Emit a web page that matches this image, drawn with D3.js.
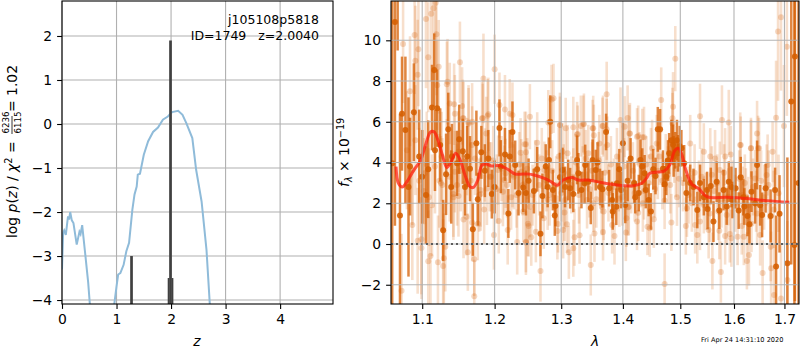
<!DOCTYPE html>
<html><head><meta charset="utf-8">
<script src="https://cdnjs.cloudflare.com/ajax/libs/d3/7.8.5/d3.min.js"></script>
<style>html,body{margin:0;background:#fff}svg{display:block}text{font-family:"DejaVu Sans",sans-serif;fill:#000;white-space:pre}</style>
</head><body><div id="c"></div>
<script>
const pzTicksX=[0,1,2,3,4], pzTicksY=[-4,-3,-2,-1,0,1,2];
const specTicksX=[1.1,1.2,1.3,1.4,1.5,1.6,1.7], specTicksY=[-2,0,2,4,6,8,10];
const titleLines=["j105108p5818","ID=1749   z=2.0040"];
const stamp="Fri Apr 24 14:31:10 2020";

const pzA_z=[0,0.02,0.04,0.07,0.11,0.13,0.15,0.18,0.21,0.27,0.32,0.34,0.37,0.43,0.48,0.51,0.54];
const pzA_v=[-3.3,-2.48,-2.42,-2.52,-2.1,-2.17,-2.0,-2.19,-2.25,-2.74,-2.45,-2.5,-2.3,-3.0,-3.6,-4.08,-4.5];
const pzB_z=[0.94,0.96,1.0,1.03,1.07,1.13,1.18,1.23,1.29,1.33,1.37,1.39,1.43,1.5,1.58,1.67,1.76,1.85,1.94,2.02,2.13,2.21,2.28,2.39,2.46,2.56,2.65,2.71,2.74];
const pzB_v=[-4.5,-4.08,-3.69,-3.42,-3.39,-3.2,-2.89,-2.7,-1.95,-1.6,-1.42,-1.15,-1.13,-0.7,-0.39,-0.18,-0.08,0.1,0.17,0.27,0.3,0.21,0.02,-0.32,-1.04,-1.76,-2.86,-4.08,-4.5];
const spikeZ=[1.275,1.99,1.955,2.026], spikeTop=[-3,1.9,-3.5,-3.5];

const modelLam=[1.066,1.069,1.074,1.08,1.089,1.098,1.105,1.111,1.116,1.121,1.127,1.133,1.139,1.145,1.151,1.158,1.165,1.17,1.176,1.182,1.188,1.195,1.207,1.219,1.23,1.249,1.258,1.274,1.284,1.294,1.303,1.317,1.327,1.343,1.362,1.381,1.402,1.418,1.432,1.44,1.446,1.456,1.471,1.481,1.49,1.496,1.502,1.51,1.521,1.533,1.549,1.586,1.625,1.664,1.71];
const modelFlux=[3.8,2.98,2.8,3.06,3.63,4.12,4.94,5.5,5.5,5.1,4.37,3.76,4.04,4.45,4.15,3.39,2.82,2.78,3.14,3.88,3.93,3.83,3.85,3.67,3.44,3.44,3.39,3.22,3.06,2.88,3.14,3.26,3.14,3.14,3.03,2.93,2.86,2.86,2.98,3.22,3.47,3.52,3.58,3.88,4.58,4.7,4.45,3.63,2.93,2.73,2.32,2.29,2.23,2.13,2.05];

const darkLam=[
1.061,1.0645,1.068,1.071,1.0736,1.078,1.082,1.089,1.105,1.108,
1.113,1.116,1.12,1.124,1.128,1.132,1.135,1.139,1.15,1.155,
1.158,1.165,1.169,1.174,1.176,1.191,1.196,1.2,1.207,1.215,
1.22,1.222,1.226,1.235,1.242,1.258,1.263,1.268,1.271,1.276,
1.281,1.283,1.29,1.291,1.298,1.306,1.314,1.319,1.325,1.332,
1.337,1.343,1.347,1.35,1.358,1.366,1.372,1.377,1.383,1.39,
1.394,1.4,1.404,1.408,1.413,1.419,1.421,1.427,1.43,1.433,
1.439,1.444,1.448,1.452,1.456,1.46,1.464,1.472,1.475,1.48,
1.487,1.491,1.496,1.502,1.511,1.524,1.531,1.536,1.55,1.556,
1.561,1.567,1.572,1.58,1.59,1.597,1.603,1.609,1.613,1.62,
1.626,1.63,1.634,1.645,1.655,1.662,1.672,1.683,1.69,1.706,
1.714,1.7205,1.7215,1.729,
1.181,1.186,1.147,1.14,1.096,1.084,1.1,1.117,1.161,1.209,1.23,1.246,
1.25,1.279,1.287,1.302,1.311,1.327,1.338,1.355,1.362,1.382,1.389,1.397,1.437,
1.469,1.478,1.484,1.488,1.494,1.499,1.507,1.518,1.543,1.549,1.586,1.595,1.618,1.641,1.651,1.681];
const darkFlux=[
3.96,10.9,16,1.4,6.4,5.6,2.8,6.47,2.4,3.67,
6.7,8.54,6.67,4.86,0.67,3.42,5.63,2.8,5.14,4.55,
2.8,3.7,0.72,4.95,2.2,4.2,2.45,2.8,5.7,4.4,
1.5,4.3,5.5,2.5,2.77,2.6,3.67,0.5,2.36,3.8,
4.13,6.0,1.4,1.87,3.28,2.8,2.74,2.46,4.13,2.65,
2.98,3.06,1.77,4.13,4.0,2.69,5.5,2.74,1.6,2.98,
3.67,4.95,1.92,3.1,4.2,3.0,2.3,2.5,4.13,3.8,
2.65,2.16,1.6,3.67,3.34,5.63,5.63,2.93,3.3,4.45,
4.87,4.6,4.45,4.7,2.5,2.8,1.67,3.0,1.72,2.85,
1.1,3.06,1.64,2.65,3.06,2.16,2.74,1.64,3.28,1.84,
1.38,0.97,2.57,3.88,1.43,2.74,1.38,-1.1,1.48,-0.95,
7,-0.05,9.2,3,
4.5,3.6,3.96,4.3,4.3,3.8,3.3,4.6,4.3,3.8,3.88,2.5,
3.1,2.8,2.65,3.63,3.14,3.47,3.88,3.63,2.8,2.16,1.83,2.65,3.47,
3.7,4.1,5.1,4.3,5.1,4.8,3.96,3.0,2.3,2.65,1.84,2.8,2.3,2.0,1.9,2.65];
const darkErr=[
20,10,6.5,5,2.8,3.6,4.4,2.4,2.4,2.4,
2.1,1.8,1.9,1.8,1.5,2.0,1.8,1.8,1.7,1.6,
1.4,1.6,1.3,1.6,1.3,1.4,1.2,1.3,1.4,1.3,
1.2,1.3,1.5,1.1,1.2,1.1,1.1,1.1,1.1,1.1,
1.1,1.3,1.0,1.0,1.2,1.0,1.0,0.9,1.2,0.9,
1.0,1.0,0.8,1.0,1.0,0.9,0.9,0.9,0.9,1.0,
1.0,1.0,0.9,1.0,1.0,1.0,0.8,0.9,1.0,0.9,
0.9,0.8,0.9,1.0,0.9,1.1,1.0,0.9,0.9,1.0,
1.0,0.9,0.9,0.9,0.9,0.9,0.9,0.9,1.0,0.9,
1.0,1.0,0.9,1.0,1.0,0.9,1.0,0.9,1.0,0.9,
1.0,1.0,1.0,1.2,1.1,1.2,1.3,2.5,1.9,5.2,
8,12,12,10,
1.3,1.3,1.6,1.6,2.3,2.4,2.3,2.0,1.5,1.3,1.2,1.1,
1.1,1.0,1.0,1.1,1.0,1.0,1.0,1.0,0.9,0.9,0.9,0.9,0.9,
0.9,1.0,1.0,1.0,1.0,1.0,0.9,0.9,0.9,0.9,0.9,1.0,0.9,1.0,1.0,1.1];

const lightLam=[
1.105,1.112,1.115,1.118,1.119,1.09,1.075,1.095,1.091,1.094,
1.108,1.122,1.151,1.184,1.2,1.134,1.133,1.12,1.084,1.137,
1.143,1.154,1.144,1.156,1.163,1.183,1.191,1.207,1.215,1.226,
1.252,1.285,1.288,1.28,1.298,1.307,1.319,1.325,1.331,1.336,
1.351,1.352,1.367,1.373,1.373,1.396,1.408,1.403,1.412,1.426,
1.436,1.466,1.487,1.486,1.486,1.491,1.536,1.577,1.59,1.645,
1.612,1.633,1.647,1.683,1.699,1.687,1.693,1.705,
1.073,1.087,1.094,1.099,1.099,1.111,1.108,1.121,1.128,1.129,
1.131,1.123,1.125,1.109,1.149,1.142,1.142,1.156,1.16,1.168,
1.176,1.162,1.171,1.171,1.18,1.18,1.189,1.185,1.199,1.206,
1.219,1.233,1.246,1.212,1.224,1.216,1.239,1.249,
1.155,1.163,1.168,1.19,1.182,1.188,1.222,1.244,1.246,1.238,
1.168,1.149,1.172,1.186,1.087,1.091,1.096,1.08,1.103,1.117,
1.133,1.144,1.195,1.205,1.214,1.228,1.161,1.126,
1.246,1.263,1.242,1.25,1.261,1.254,1.246,1.268,1.273,1.279,
1.252,1.294,1.295,1.309,1.305,1.303,1.312,1.319,1.321,1.329,
1.353,1.367,1.386,1.405,1.347,1.365,1.368,1.382,1.406,1.41,
1.424,1.426,1.442,1.446,1.453,1.298,1.326,1.335,1.35,1.366,
1.411,1.424,1.433,1.361,1.374,1.302,1.31,1.343,1.274,1.319,
1.341,1.351,1.306,1.394,1.409,1.434,1.45,1.458,
1.472,1.484,1.51,1.494,1.472,1.512,1.531,1.527,1.559,1.575,
1.552,1.572,1.583,1.592,1.595,1.607,1.619,1.629,1.625,1.656,
1.673,1.693,1.679,1.706,1.613,1.633,1.649,1.676,1.543,1.555,
1.564,1.583,1.594,1.518,1.573,1.666,1.664,1.641,1.688,1.521,
1.543,1.586,1.57,1.615,1.634,1.651,1.554,1.536,1.589,1.623,
1.645,1.672,
1.102,1.106,1.113,1.127,1.137,1.147,1.152,1.166,1.178,1.193,
1.198,1.203,1.21,1.218,1.226,1.232,1.236,1.241,1.248,1.256,
1.26,1.266,1.27,1.277,1.282,1.286,1.292,1.296,1.3,1.304,
1.316,1.323,1.328,1.334,1.339,1.345,1.349,1.356,1.36,1.364,
1.37,1.376,1.38,1.385,1.39,1.393,1.399,1.402,1.414,1.417,
1.42,1.428,1.431,1.436,1.44,1.444,1.448,1.455,1.46,1.463,
1.468,1.474,1.478,1.482,1.489,1.492,1.498,1.505,1.515,1.526,
1.534,1.539,1.547,1.558,1.562,1.568,1.576,1.581,1.598,1.602,
1.61,1.617,1.621,1.628,1.637,1.643,1.653,1.659,1.668,1.678];
const lightFlux=[
11.05,11.3,11.57,11.85,10.3,10.26,9.82,9.56,9.0,8.31,
9.17,8.7,8.92,8.13,8.58,7.97,7.84,7.8,7.5,6.9,
6.86,6.78,6.4,6.17,5.96,6.17,6.37,6.82,6.6,6.33,
6.25,7.1,7.15,5.96,5.83,5.68,5.73,5.38,5.79,5.89,
5.68,5.34,5.79,7.35,5.63,6.09,6.19,5.76,5.43,5.3,
5.24,7.07,6.74,6.17,5.92,9.1,6.27,6.09,5.97,5.43,
4.86,4.7,4.7,6.2,5.79,10.43,11.13,9.69,
-2.3,0.93,0.16,0.23,-0.2,-0.59,-0.85,-0.9,-1.08,-0.7,
-0.13,3.1,3.0,2.3,2.36,2.45,2.3,1.2,1.34,1.05,
1.0,-0.4,-0.75,-2.57,2.45,2.65,2.73,1.7,0.44,1.13,
0.69,0.1,0.08,2.57,2.3,3.47,3.55,1.0,
6.17,5.9,6.0,6.3,6.17,5.43,6.4,4.9,4.5,4.48,
4.86,4.53,4.2,3.88,3.63,5.1,3.1,4.6,3.47,3.8,
4.04,3.55,3.3,3.63,3.14,3.3,4.29,4.29,
4.9,4.97,1.59,0.88,0.6,0.33,0.11,-1.33,1.26,2.19,
1.83,0.64,0.98,0.97,1.55,0.69,-0.41,-0.21,0.33,0.43,
0.52,0.59,0.39,0.56,-1.03,1.83,1.59,0.93,1.26,1.83,
1.1,1.54,0.85,0.77,1.21,5.84,5.4,5.89,5.68,5.79,
5.43,5.27,5.24,4.94,4.86,4.53,4.45,4.45,3.63,3.3,
2.16,2.0,2.16,2.24,1.8,2.0,4.7,4.94,
-1.96,1.06,0.88,2.29,2.13,1.75,0.44,0.93,-0.83,-1.38,
0.69,0.65,0.39,0.49,0.28,0.36,0.36,-0.54,-0.83,-1.42,
-1.19,-2.67,-2.5,-1.77,4.86,4.7,4.7,4.53,4.53,4.29,
4.2,4.29,4.4,4.94,3.63,3.88,3.39,3.22,2.49,2.0,
1.92,1.42,1.59,0.88,1.0,0.44,1.5,1.1,2.32,2.32,
1.5,-0.13,
2.6,3.9,1.9,2.9,3.3,2.9,3.6,3.1,2.4,3.3,
4.1,2.7,3.7,2.9,3.4,2.4,3.9,2.9,3.7,2.4,
3.6,2.9,4.2,3.1,2.4,3.6,2.9,4.3,2.5,3.5,
2.9,4.0,2.4,3.4,4.2,2.7,3.6,2.2,4.1,2.9,
3.5,2.5,3.9,2.8,4.3,3.0,2.3,3.8,2.9,3.6,
2.5,4.1,3.2,2.6,3.9,3.0,4.3,2.7,3.6,4.3,
3.1,4.0,3.4,2.9,4.4,3.7,3.2,3.0,2.4,3.5,
2.7,3.3,2.1,3.4,2.6,3.0,2.2,3.5,2.7,2.0,
3.2,2.4,3.0,1.9,2.8,2.1,3.1,2.3,2.9,1.7];
const lightErr=[
3.4,3.3,3.2,3.2,3.0,2.9,2.9,2.8,2.7,2.7,
2.7,2.3,2.0,2.2,1.7,2.1,2.1,2.2,2.7,2.0,
2.0,1.9,1.9,1.8,1.7,1.7,1.8,1.6,1.7,1.6,
1.6,1.7,1.7,1.6,1.6,1.5,1.5,1.6,1.5,1.5,
1.6,1.5,1.5,1.6,1.5,1.6,1.6,1.5,1.5,1.5,
1.5,1.6,1.7,1.5,1.5,1.6,1.6,1.7,1.6,1.6,
1.6,1.5,1.6,2.8,3.0,3.4,3.6,3.4,
2.8,2.7,2.6,2.7,2.5,2.4,2.5,2.3,2.3,2.2,
2.2,2.3,2.3,2.4,2.0,2.1,2.1,1.9,1.9,1.9,
1.8,1.9,1.8,1.8,1.8,1.8,1.8,1.7,1.7,1.6,
1.7,1.6,1.6,1.7,1.6,1.7,1.6,1.6,
1.9,1.9,1.9,1.8,1.8,1.8,1.7,1.6,1.6,1.7,
1.9,2.0,1.8,1.8,2.7,2.7,2.6,2.9,2.5,2.3,
2.1,2.0,1.7,1.7,1.7,1.6,1.9,2.2,
1.6,1.5,1.5,1.5,1.5,1.4,1.5,1.5,1.5,1.5,
1.5,1.4,1.4,1.4,1.4,1.4,1.3,1.4,1.4,1.4,
1.4,1.4,1.4,1.4,1.5,1.4,1.4,1.4,1.4,1.4,
1.4,1.4,1.4,1.4,1.4,1.4,1.4,1.4,1.4,1.4,
1.4,1.4,1.4,1.4,1.4,1.4,1.4,1.4,1.4,1.4,
1.4,1.4,1.4,1.4,1.4,1.4,1.4,1.4,
1.5,1.4,1.4,1.4,1.4,1.4,1.4,1.4,1.4,1.5,
1.4,1.4,1.4,1.4,1.4,1.4,1.4,1.5,1.4,1.6,
1.8,2.7,2.5,2.9,1.4,1.4,1.5,1.5,1.4,1.4,
1.4,1.4,1.4,1.4,1.4,1.5,1.5,1.4,1.9,1.4,
1.4,1.4,1.4,1.4,1.4,1.5,1.4,1.4,1.4,1.4,
1.5,1.7,
2.6,2.6,2.5,2.3,2.2,2.0,2.0,1.9,1.8,1.7,
1.7,1.7,1.6,1.6,1.6,1.6,1.6,1.5,1.5,1.5,
1.5,1.5,1.5,1.5,1.5,1.5,1.4,1.4,1.4,1.4,
1.4,1.4,1.4,1.4,1.4,1.4,1.4,1.4,1.4,1.4,
1.4,1.4,1.4,1.4,1.4,1.4,1.4,1.4,1.4,1.4,
1.4,1.4,1.4,1.4,1.4,1.4,1.4,1.4,1.4,1.4,
1.4,1.4,1.4,1.4,1.4,1.4,1.4,1.4,1.4,1.4,
1.4,1.4,1.4,1.4,1.4,1.4,1.4,1.4,1.4,1.4,
1.4,1.4,1.4,1.4,1.4,1.5,1.5,1.6,1.7,1.9];

const W=800,H=350;
const svg=d3.select("#c").append("svg").attr("width",W).attr("height",H);
const L={l:62,r:333,t:1,b:304}, R={l:391,r:799,t:1,b:304};
const xP=d3.scaleLinear().domain([0,4.97]).range([L.l,L.r]);
const yP=d3.scaleLinear().domain([2.795,-4.09]).range([L.t,L.b]);
const xS=d3.scaleLog().domain([1.0595,1.730]).range([R.l,R.r]);
const yS=d3.scaleLinear().domain([11.93,-2.945]).range([R.t,R.b]);

const defs=svg.append("defs");
defs.append("clipPath").attr("id","cl").append("rect").attr("x",L.l).attr("y",L.t).attr("width",L.r-L.l).attr("height",L.b-L.t);
defs.append("clipPath").attr("id","cr").append("rect").attr("x",R.l).attr("y",R.t).attr("width",R.r-R.l).attr("height",R.b-R.t);

const GRID="#b0b0b0";
const gridL=svg.append("g");
gridL.selectAll("line.v").data(pzTicksX).join("line").attr("class","v").attr("x1",xP).attr("x2",xP).attr("y1",L.t).attr("y2",L.b).attr("stroke",GRID).attr("stroke-width",1.1);
gridL.selectAll("line.h").data(pzTicksY).join("line").attr("class","h").attr("y1",yP).attr("y2",yP).attr("x1",L.l).attr("x2",L.r).attr("stroke",GRID).attr("stroke-width",1.1);

const gl=svg.append("g").attr("clip-path","url(#cl)");
const line=(x,y)=>d3.line().x(d=>x(d[0])).y(d=>y(d[1]));
const zip=(a,b)=>a.map((v,i)=>[v,b[i]]);
const lp=line(xP,yP);
[[pzA_z,pzA_v],[pzB_z,pzB_v]].forEach(([a,b])=>gl.append("path").attr("d",lp(zip(a,b))).attr("fill","none").attr("stroke","#8fbbd9").attr("stroke-width",2));
spikeZ.forEach((z,i)=>gl.append("line").attr("x1",xP(z)).attr("x2",xP(z)).attr("y1",yP(spikeTop[i])).attr("y2",L.b).attr("stroke","#404040").attr("stroke-width",i<2?2.7:1.8));

const gr=svg.append("g").attr("clip-path","url(#cr)");
function errs(lam,flux,err,color,bw,op,rad,dop){
  const rows=lam.map((l,i)=>({l,f:flux[i],e:err[i]}));
  const g=gr.append("g");
  g.selectAll("line").data(rows).join("line").attr("x1",d=>xS(d.l)).attr("x2",d=>xS(d.l)).attr("y1",d=>yS(d.f-d.e)).attr("y2",d=>yS(d.f+d.e)).attr("stroke",color).attr("stroke-width",bw).attr("stroke-opacity",op);
  g.selectAll("circle").data(rows).join("circle").attr("cx",d=>xS(d.l)).attr("cy",d=>yS(d.f)).attr("r",rad).attr("fill",color).attr("fill-opacity",dop);
}
errs(lightLam,lightFlux,lightErr,"#d55e00",2.6,0.2,3,0.24);
errs(darkLam,darkFlux,darkErr,"#d55e00",2.5,0.75,3,0.88);
gr.append("path").attr("d",line(xS,yS).curve(d3.curveCatmullRom)(zip(modelLam,modelFlux))).attr("fill","none").attr("stroke","#ff1a0a").attr("stroke-width",3).attr("stroke-opacity",0.72);
gr.append("line").attr("x1",R.l).attr("x2",R.r).attr("y1",yS(0)).attr("y2",yS(0)).attr("stroke","#111").attr("stroke-width",2).attr("stroke-dasharray","2 3");

const gridR=svg.append("g");
gridR.selectAll("line.v").data(specTicksX).join("line").attr("class","v").attr("x1",xS).attr("x2",xS).attr("y1",R.t).attr("y2",R.b).attr("stroke",GRID).attr("stroke-width",1.1).attr("stroke-opacity",0.95);
gridR.selectAll("line.h").data(specTicksY).join("line").attr("class","h").attr("y1",yS).attr("y2",yS).attr("x1",R.l).attr("x2",R.r).attr("stroke",GRID).attr("stroke-width",1.1).attr("stroke-opacity",0.95);

function axes(box,x,y,tx,ty,fx,fy){
  const a=svg.append("g");
  const ax=a.append("g").attr("transform",`translate(0,${box.b})`).call(d3.axisBottom(x).tickValues(tx).tickFormat(fx).tickSize(4.9).tickPadding(5.5));
  const ay=a.append("g").attr("transform",`translate(${box.l},0)`).call(d3.axisLeft(y).tickValues(ty).tickFormat(fy).tickSize(4.9).tickPadding(5));
  [ax,ay].forEach(s=>{s.select(".domain").remove();s.selectAll("text").style("font-size","13.9px").style("font-family",'"DejaVu Sans"');s.selectAll("line").attr("stroke","#000").attr("stroke-width",1.1);});
  a.append("rect").attr("x",box.l).attr("y",box.t).attr("width",box.r-box.l).attr("height",box.b-box.t).attr("fill","none").attr("stroke","#000").attr("stroke-width",1.1);
}
const minus=d=>String(d).replace("-","\u2212");
axes(L,xP,yP,pzTicksX,pzTicksY,minus,minus);
axes(R,xS,yS,specTicksX,specTicksY,d3.format(".1f"),minus);

titleLines.forEach((t,i)=>svg.append("text").attr("x",319).attr("y",24+i*16).attr("text-anchor","end").style("font-size","12.5px").text(t));

const T=(x,y,s,txt,o={})=>{const e=svg.append("text").attr("x",x).attr("y",y).style("font-size",s+"px").text(txt);
  if(o.a)e.attr("text-anchor",o.a); if(o.i)e.style("font-style","italic"); if(o.r)e.attr("transform",`rotate(-90 ${x} ${y})`); return e;};
T(197,346,13.9,"z",{a:"middle",i:1});
T(595,346,13.9,"\u03bb",{a:"middle",i:1});
T(701,342,6.6,stamp);

const yl=T(17,238,13.9,"",{r:1});
yl.append("tspan").text("log ");
yl.append("tspan").style("font-style","italic").text("p");
yl.append("tspan").text("(");
yl.append("tspan").style("font-style","italic").text("z");
yl.append("tspan").text(") / ");
yl.append("tspan").style("font-style","italic").text("\u03c7");
yl.append("tspan").attr("dy",-5).style("font-size","9.7px").text("2");
yl.append("tspan").attr("dy",5).text(" =");
T(9,133.5,8.7,"6236",{r:1});
T(21,133.5,8.7,"6115",{r:1});
svg.append("line").attr("x1",12).attr("x2",12).attr("y1",116).attr("y2",134).attr("stroke","#000").attr("stroke-width",0.8);
T(17,112,13.9,"= 1.02",{r:1});

const yr=T(349,187,13.9,"",{r:1});
yr.append("tspan").style("font-style","italic").text("f");
yr.append("tspan").attr("dy",3).style("font-size","9.7px").style("font-style","italic").text("\u03bb");
yr.append("tspan").attr("dy",-3).text(" \u00d7 10");
yr.append("tspan").attr("dy",-5).style("font-size","9.7px").text("\u221219");
</script></body></html>
